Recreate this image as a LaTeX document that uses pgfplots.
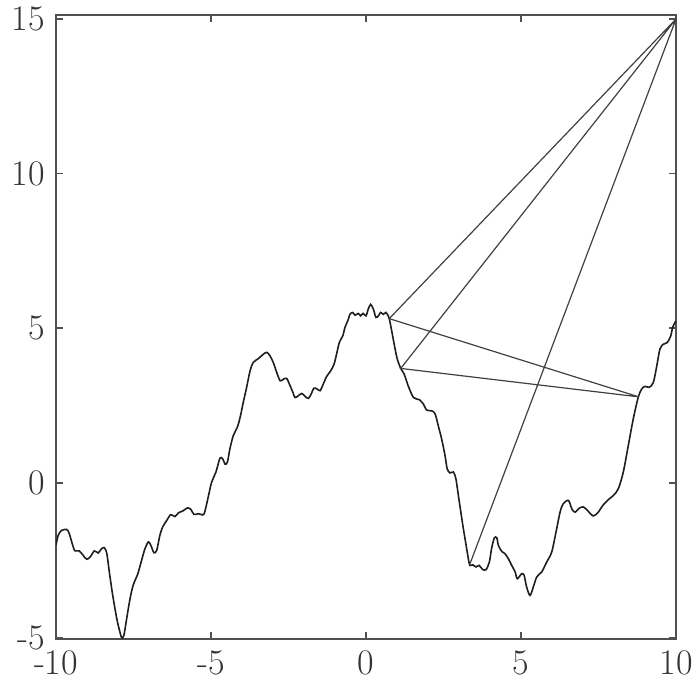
\documentclass[border=0pt]{standalone}
\usepackage{pgfplots}
\pgfplotsset{compat=1.18}
\definecolor{frame}{HTML}{505050}
\definecolor{curve}{HTML}{1E1E1E}
\definecolor{chord}{HTML}{404040}
\begin{document}
\begin{tikzpicture}
\useasboundingbox (-28pt,-22pt) rectangle (320pt,319.5pt);
\begin{axis}[
  at={(0,0)}, anchor=south west,
  scale only axis, width=310pt, height=312pt,
  xmin=-10, xmax=10, ymin=-5.05, ymax=15.13,
  xtick={-10,-5,0,5,10}, xticklabels={-10,-5,0,5,10},
  ytick={-5,0,5,10,15}, yticklabels={-5,0,5,10,15},
  tick align=inside, major tick length=3.5pt,
  tick style={frame, line width=0.8pt},
  axis line style={frame, line width=1pt},
  ticklabel style={font=\fontsize{18}{20}\selectfont, text=black!80},
  xticklabel style={yshift=-2.5pt},
  yticklabel style={xshift=-2pt},
]
\addplot[curve, line width=0.8pt, smooth, tension=0.5] coordinates {
(-10.00,-2.02) (-9.93,-1.70) (-9.82,-1.54) (-9.65,-1.51) (-9.57,-1.65) (-9.46,-2.02)
(-9.39,-2.20) (-9.25,-2.20) (-9.12,-2.35) (-9.01,-2.47) (-8.90,-2.40) (-8.76,-2.20)
(-8.64,-2.27) (-8.53,-2.13) (-8.44,-2.10) (-8.36,-2.29) (-8.28,-2.88) (-8.17,-3.64)
(-8.04,-4.39) (-7.94,-4.82) (-7.88,-5.01) (-7.81,-4.93) (-7.72,-4.39) (-7.61,-3.74)
(-7.51,-3.31) (-7.36,-2.94) (-7.24,-2.51) (-7.13,-2.13) (-7.02,-1.91) (-6.94,-2.02)
(-6.84,-2.26) (-6.75,-2.18) (-6.65,-1.70) (-6.56,-1.43) (-6.43,-1.22) (-6.30,-1.03)
(-6.16,-1.09) (-6.05,-0.97) (-5.91,-0.91) (-5.76,-0.81) (-5.65,-0.86) (-5.55,-1.02)
(-5.41,-1.00) (-5.32,-1.02) (-5.22,-1.00) (-5.09,-0.46) (-4.98,0.02) (-4.84,0.35)
(-4.71,0.80) (-4.62,0.77) (-4.55,0.61) (-4.47,0.67) (-4.39,1.10) (-4.28,1.53)
(-4.15,1.80) (-4.06,2.12) (-3.96,2.60) (-3.85,3.09) (-3.74,3.62) (-3.64,3.89)
(-3.47,4.02) (-3.31,4.16) (-3.20,4.22) (-3.10,4.11) (-2.99,3.89) (-2.88,3.57)
(-2.77,3.30) (-2.67,3.35) (-2.56,3.38) (-2.47,3.19) (-2.36,2.93) (-2.29,2.76)
(-2.18,2.82) (-2.07,2.89) (-1.97,2.80) (-1.86,2.73) (-1.77,2.87) (-1.68,3.06)
(-1.57,3.03) (-1.48,2.98) (-1.38,3.19) (-1.27,3.44) (-1.14,3.62) (-1.03,3.84)
(-0.95,4.16) (-0.86,4.54) (-0.75,4.75) (-0.68,5.02) (-0.57,5.29) (-0.52,5.45)
(-0.43,5.51) (-0.35,5.42) (-0.25,5.48) (-0.17,5.40) (-0.09,5.48) (0.00,5.40)
(0.07,5.61) (0.15,5.77) (0.24,5.61) (0.32,5.35) (0.40,5.40) (0.47,5.51)
(0.56,5.45) (0.64,5.51) (0.69,5.45) (0.75,5.31) (0.83,4.91) (0.94,4.32)
(1.01,4.00) (1.12,3.70) (1.23,3.52) (1.36,3.14) (1.53,2.76) (1.72,2.69)
(1.85,2.55) (1.96,2.35) (2.12,2.33) (2.23,2.23) (2.33,1.85) (2.44,1.42)
(2.55,0.88) (2.62,0.45) (2.71,0.32) (2.82,0.35) (2.90,0.13) (2.98,-0.41)
(3.06,-0.95) (3.14,-1.48) (3.23,-2.02) (3.30,-2.45) (3.35,-2.67) (3.44,-2.65)
(3.55,-2.72) (3.65,-2.67) (3.76,-2.80) (3.87,-2.81) (3.98,-2.56) (4.05,-2.13)
(4.14,-1.78) (4.22,-1.78) (4.27,-2.02) (4.38,-2.22) (4.48,-2.29) (4.59,-2.45)
(4.70,-2.67) (4.81,-2.88) (4.88,-3.10) (5.02,-2.94) (5.10,-2.99) (5.18,-3.36)
(5.29,-3.64) (5.40,-3.36) (5.51,-3.04) (5.67,-2.88) (5.83,-2.56) (5.99,-2.24)
(6.13,-1.59) (6.26,-0.95) (6.36,-0.68) (6.53,-0.57) (6.64,-0.84) (6.74,-0.95)
(6.88,-0.82) (7.01,-0.78) (7.14,-0.89) (7.33,-1.07) (7.49,-0.95) (7.64,-0.73)
(7.82,-0.54) (7.98,-0.41) (8.14,-0.19) (8.30,0.35) (8.46,1.20) (8.62,2.06)
(8.78,2.76) (8.89,3.03) (9.00,3.12) (9.14,3.09) (9.27,3.25) (9.38,3.78)
(9.48,4.32) (9.59,4.48) (9.72,4.54) (9.83,4.75) (9.89,5.02) (9.97,5.19) (10.00,5.23)
};
\addplot[chord, line width=0.6pt] coordinates {
(3.35,-2.63) (10,15) (0.75,5.31) (8.80,2.78) (1.12,3.70) (10,15)
};
\end{axis}
\end{tikzpicture}
\end{document}
